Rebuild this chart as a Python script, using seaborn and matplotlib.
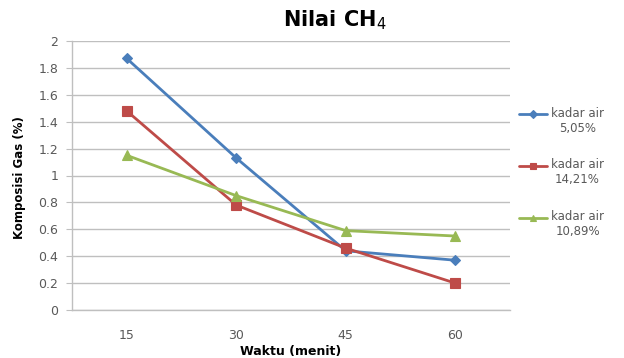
import matplotlib
matplotlib.use("Agg")
import matplotlib.pyplot as plt
from matplotlib.lines import Line2D
from matplotlib.legend_handler import HandlerLine2D
from matplotlib.transforms import Affine2D
import seaborn as sns
import pandas as pd

waktu = ["15", "30", "45", "60"]
seri = ["kadar air\n5,05%", "kadar air\n14,21%", "kadar air\n10,89%"]
kadar_505 = [1.87, 1.13, 0.44, 0.37]
kadar_1421 = [1.48, 0.78, 0.46, 0.20]
kadar_1089 = [1.15, 0.85, 0.59, 0.55]
y_ticks = [0, 0.2, 0.4, 0.6, 0.8, 1, 1.2, 1.4, 1.6, 1.8, 2]
y_tick_labels = ["0", "0.2", "0.4", "0.6", "0.8", "1", "1.2", "1.4", "1.6", "1.8", "2"]

warna = ["#4A7EBB", "#BE4B48", "#98B954"]
penanda = ["D", "s", "^"]
ukuran_penanda = [5, 7, 6.5]

rows = []
for name, vals in zip(seri, [kadar_505, kadar_1421, kadar_1089]):
    for w, v in zip(waktu, vals):
        rows.append({"Waktu": w, "Nilai": v, "Seri": name})
df = pd.DataFrame(rows)

sns.set_style("white")
plt.rcParams["font.family"] = ["DejaVu Sans"]

fig = plt.figure(figsize=(6.24, 3.58), dpi=100)
ax = fig.add_axes([72 / 624, 1 - 310 / 358, (510 - 72) / 624, (310 - 41) / 358])

sns.pointplot(data=df, x="Waktu", y="Nilai", hue="Seri", order=waktu,
              hue_order=seri, palette=warna, markers=penanda,
              linestyles=["-", "-", "-"], ax=ax, errorbar=None, legend=False)

data_lines = [ln for ln in ax.lines if len(ln.get_xdata()) == len(waktu)]
for ln, ms in zip(data_lines, ukuran_penanda):
    ln.set_markersize(ms)
    ln.set_linewidth(2.0)
    ln.set_markeredgewidth(0.8)

ax.set_xlim(-0.5, 3.5)
ax.set_ylim(0, 2)
ax.set_yticks(y_ticks)
ax.set_yticklabels(y_tick_labels)
ax.yaxis.grid(True, color="#BFBFBF", linewidth=1.0)
ax.set_axisbelow(True)
for side in ["top", "right"]:
    ax.spines[side].set_visible(False)
for side in ["left", "bottom"]:
    ax.spines[side].set_color("#BFBFBF")
    ax.spines[side].set_linewidth(1.0)

# category boundary ticks on the x axis
ax.set_xticks([0, 1, 2, 3])
ax.set_xticks([-0.5, 0.5, 1.5, 2.5, 3.5], minor=True)
ax.tick_params(axis="x", which="major", length=0, pad=14, labelsize=9, labelcolor="#595959")
ax.tick_params(axis="x", which="minor", length=4, color="#BFBFBF", direction="out")
ax.tick_params(axis="y", length=4, color="#BFBFBF", direction="out", pad=6,
               labelsize=9, labelcolor="#595959", left=True)
ax.set_xlabel("")
ax.set_ylabel("")


class HandlerBarisAtas(HandlerLine2D):
    """Line handle aligned with the first line of a two-line label."""

    def create_artists(self, legend, orig_handle, xdescent, ydescent,
                       width, height, fontsize, trans):
        shift = 0.6 * fontsize * legend.figure.dpi / 72
        trans = trans + Affine2D().translate(0, shift)
        return super().create_artists(legend, orig_handle, xdescent, ydescent,
                                      width, height, fontsize, trans)


handles = [Line2D([], [], color=c, marker=m, markersize=4.5, linewidth=2.0,
                  markeredgewidth=0.8)
           for c, m in zip(warna, penanda)]
leg = fig.legend(handles, seri, loc="upper left", bbox_to_anchor=(508 / 624, 1 - 96 / 358),
                 frameon=False, fontsize=8.5, handlelength=2.4, handletextpad=0.35,
                 labelspacing=2.0, labelcolor="#595959",
                 handler_map={Line2D: HandlerBarisAtas()})
for t in leg.get_texts():
    t.set_multialignment("center")

fig.text(335 / 624, 1 - 20 / 358, "Nilai CH$_4$", ha="center", va="center",
         fontsize=15, fontweight="bold", color="#000000")
fig.text(20 / 624, 1 - 178 / 358, "Komposisi Gas (%)", ha="center", va="center",
         rotation=90, fontsize=8.5, fontweight="bold", color="#000000")
fig.text(291 / 624, 1 - 352 / 358, "Waktu (menit)", ha="center", va="center",
         fontsize=9, fontweight="bold", color="#000000")

fig.savefig("out.png", dpi=100)
